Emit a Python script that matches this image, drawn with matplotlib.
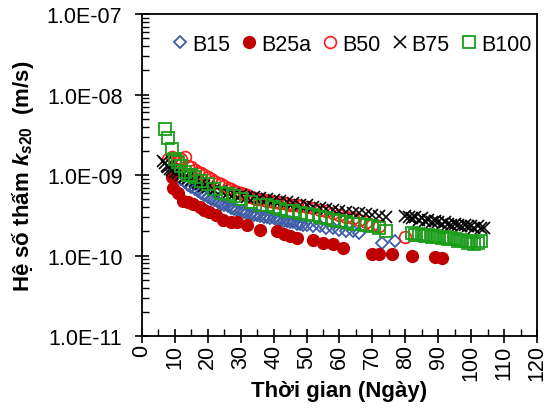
import matplotlib
matplotlib.use("Agg")
import matplotlib.pyplot as plt
from matplotlib.ticker import LogLocator, NullFormatter, MultipleLocator

plt.rcParams['font.family'] = ['Liberation Sans', 'DejaVu Sans']
plt.rcParams['mathtext.fontset'] = 'custom'
plt.rcParams['mathtext.it'] = 'Liberation Sans:italic:bold'
plt.rcParams['mathtext.rm'] = 'Liberation Sans:bold'
plt.rcParams['mathtext.bf'] = 'Liberation Sans:bold'

# data (k in units of 1e-10 m/s)
b15_days = [9, 10, 11, 12, 13, 14, 15, 16, 17, 18, 19, 20, 21, 22, 23, 24, 25, 26, 27, 28,
            29, 30, 31, 32, 33, 34, 35, 36, 37, 38, 39, 40, 41, 42, 43, 44, 45, 46, 47, 48,
            49, 50, 52, 54, 56, 58, 60, 62, 64, 66, 73, 77]
b15_k = [11.5, 10.5, 9.5, 9.0, 8.2, 7.6, 7.1, 6.7, 6.3, 6.0, 5.7, 5.4, 5.1, 4.9, 4.6, 4.4, 4.3, 4.1, 3.9, 3.8,
         3.7, 3.6, 3.5, 3.4, 3.3, 3.2, 3.2, 3.1, 3.0, 3.0, 2.9, 2.9, 2.8, 2.8, 2.7, 2.7, 2.6, 2.6, 2.5, 2.5,
         2.4, 2.4, 2.3, 2.3, 2.2, 2.2, 2.1, 2.0, 2.0, 1.9, 1.45, 1.5]

b25a_days = [9, 9.5, 11, 12.5, 14, 15.5, 17.5, 19, 20.5, 22.5, 24.5, 27, 29, 32, 36, 41, 43, 45, 47, 52,
             55, 58, 61, 70, 72, 76, 82, 89, 91]
b25a_k = [9.5, 7.0, 6.0, 4.8, 4.6, 4.4, 4.0, 3.7, 3.5, 3.2, 2.8, 2.6, 2.6, 2.4, 2.1, 2.0, 1.85, 1.75, 1.65, 1.55,
          1.45, 1.4, 1.25, 1.05, 1.05, 1.05, 1.0, 0.95, 0.92]

b50_days = [8, 9, 10, 11, 12, 13, 14, 15, 16, 17, 18, 19, 20, 21, 22, 23, 24, 25, 26, 27,
            28, 29, 30, 31, 32, 33, 34, 35, 36, 37, 38, 39, 40, 41, 42, 43, 44, 45, 46, 47,
            48, 50, 52, 54, 56, 58, 60, 62, 64, 66, 68, 70, 72, 80]
b50_k = [16, 17, 16, 15, 16, 17, 13, 12.5, 11.5, 11, 10.5, 10, 9.5, 9.0, 8.5, 8.0, 7.7, 7.4, 7.0, 6.7,
         6.4, 6.2, 6.0, 5.8, 5.6, 5.4, 5.2, 5.1, 5.0, 4.9, 4.8, 4.7, 4.6, 4.6, 4.5, 4.5, 4.4, 4.3, 4.2, 4.2,
         4.1, 4.0, 3.9, 3.7, 3.6, 3.4, 3.2, 3.0, 2.9, 2.8, 2.6, 2.4, 2.3, 1.7]

b75_days = [6.5, 7, 7.5, 8, 8.5, 9, 10, 11, 12, 13, 14, 15, 16, 17, 18, 19, 20,
            22, 24, 26, 28, 30, 32, 34, 36, 38, 40, 42, 44, 46, 48, 50, 52, 54, 56, 58, 60,
            62, 64, 66, 68, 70, 72, 74,
            80, 81, 82, 83, 84, 85, 86, 87, 88, 89, 90, 91, 92, 93, 94, 95, 96, 97, 98, 99,
            100, 101, 102, 103, 104]
b75_k = [15, 14, 13, 12.5, 12, 11.5, 11, 10.5, 10, 9.6, 9.2, 8.8, 8.4, 8.0, 7.7, 7.4, 7.1,
         6.6, 6.3, 6.0, 5.8, 5.6, 5.4, 5.3, 5.2, 5.0, 4.9, 4.7, 4.6, 4.5, 4.3, 4.2, 4.0, 3.9, 3.8, 3.7, 3.6,
         3.5, 3.4, 3.4, 3.3, 3.2, 3.1, 3.0,
         3.1, 3.0, 2.9, 3.0, 2.8, 2.9, 2.7, 2.8, 2.6, 2.7, 2.6, 2.5, 2.6, 2.5, 2.4, 2.5, 2.4, 2.3, 2.4, 2.3,
         2.3, 2.2, 2.3, 2.2, 2.2]

b100_days = [7, 8, 9, 10, 11, 12, 13, 14, 15, 16, 18, 20, 22, 24, 26, 28, 30, 33, 36,
             38, 40, 42, 44, 46, 48, 50, 52, 54, 56, 58, 60, 62, 64, 66, 68, 70, 72, 74,
             82, 83, 84, 85, 86, 87, 88, 89, 90, 91, 92, 93, 94, 95, 96, 97, 98, 99, 100, 101, 102, 103]
b100_k = [37, 29, 21, 16, 14.5, 13, 11, 10, 10, 9.5, 8.5, 7.7, 6.8, 6.0, 5.8, 5.5, 5.0, 4.6, 4.2,
          4.2, 4.0, 3.8, 3.6, 3.6, 3.4, 3.3, 3.2, 3.0, 2.9, 2.8, 2.7, 2.6, 2.5, 2.5, 2.4, 2.3, 2.2, 2.0,
          1.9, 1.8, 1.85, 1.8, 1.75, 1.8, 1.7, 1.75, 1.7, 1.65, 1.7, 1.6, 1.65, 1.6, 1.5, 1.55, 1.5, 1.45, 1.5, 1.4, 1.45, 1.5]

x_ticks = [0, 10, 20, 30, 40, 50, 60, 70, 80, 90, 100, 110, 120]
y_ticks = [1e-11, 1e-10, 1e-9, 1e-8, 1e-7]
y_labels = ["1.0E-11", "1.0E-10", "1.0E-09", "1.0E-08", "1.0E-07"]


def sc(v):
    return [a * 1e-10 for a in v]


fig = plt.figure(figsize=(5.48, 4.10), dpi=100)
ax = fig.add_axes([0.259, 0.178, 0.721, 0.785])

ax.plot(b15_days, sc(b15_k), ls='none', marker='D', ms=6.5, mfc='none', mec='#3c5da6', mew=1.3, label='B15')
ax.plot(b25a_days, sc(b25a_k), ls='none', marker='o', ms=8.5, mfc='#c00000', mec='#c00000', label='B25a')
ax.plot(b50_days, sc(b50_k), ls='none', marker='o', ms=8.5, mfc='none', mec='#ff1a1a', mew=1.2, label='B50')
ax.plot(b75_days, sc(b75_k), ls='none', marker='x', ms=8.5, color='black', mew=1.2, label='B75')
ax.plot(b100_days, sc(b100_k), ls='none', marker='s', ms=8, mfc='none', mec='#1a9e1a', mew=1.3, label='B100')

ax.set_yscale('log')
ax.set_ylim(1e-11, 1e-7)
ax.set_xlim(0, 120)
ax.set_yticks(y_ticks)
ax.set_yticklabels(y_labels)
ax.yaxis.set_minor_locator(LogLocator(base=10, subs=range(2, 10)))
ax.yaxis.set_minor_formatter(NullFormatter())
ax.set_xticks(x_ticks)
ax.set_xticklabels([str(t) for t in x_ticks], rotation=90)
ax.xaxis.set_minor_locator(MultipleLocator(5))

ax.tick_params(which='major', direction='inout', length=10, width=1.2, labelsize=15.5)
ax.tick_params(which='minor', direction='in', length=5, width=1)
ax.tick_params(axis='y', which='major', pad=9)
ax.tick_params(axis='x', which='major', pad=1)
for s in ax.spines.values():
    s.set_linewidth(1.3)

ax.set_xlabel("Thời gian (Ngày)", fontsize=16, fontweight='bold', labelpad=0)
ax.set_ylabel(r"Hệ số thấm $k_{s20}$  (m/s)", fontsize=16, fontweight='bold', labelpad=8)

ax.legend(loc='upper center', ncol=5, frameon=False, fontsize=15.5, handlelength=0.8,
          handletextpad=0.15, columnspacing=0.5, borderaxespad=0.5, bbox_to_anchor=(0.53, 1.0))

fig.savefig("out.png", dpi=100)
